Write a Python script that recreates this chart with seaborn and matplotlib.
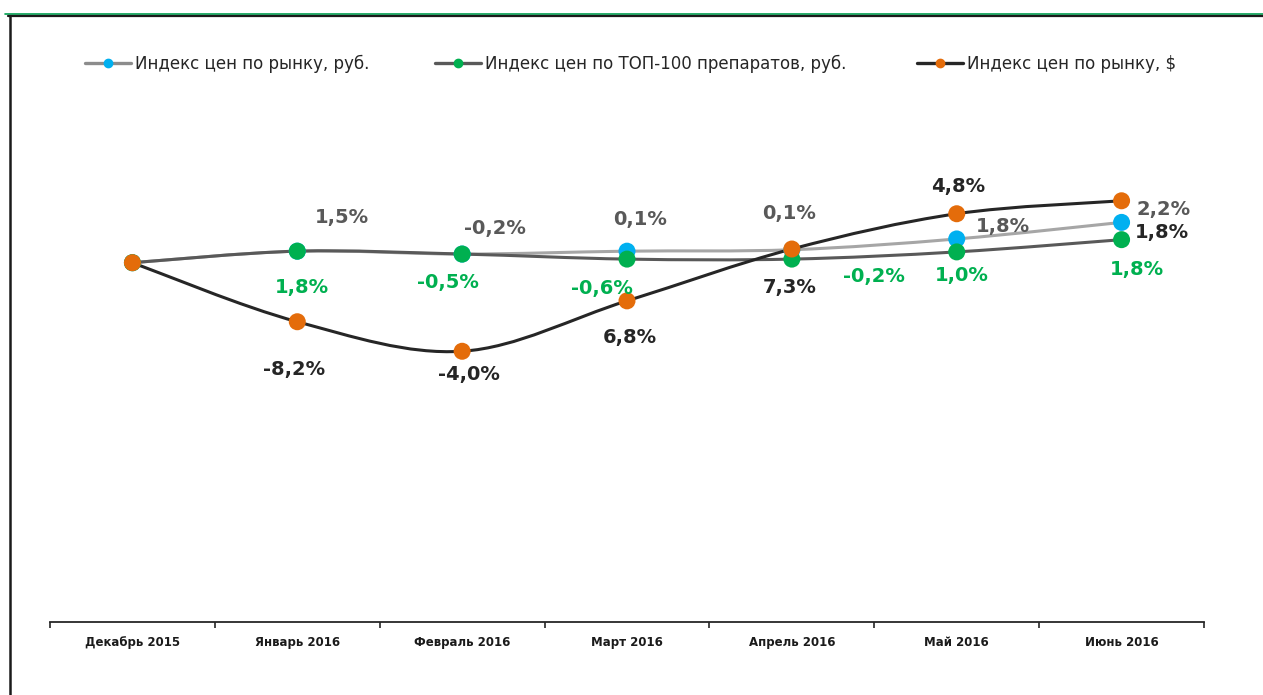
import numpy as np
import matplotlib
matplotlib.use("Agg")
import matplotlib.pyplot as plt
from matplotlib.path import Path
from matplotlib.patches import PathPatch
from matplotlib.lines import Line2D
import seaborn as sns

# ---------------- data ----------------
categories = ["Декабрь 2015", "Январь 2016", "Февраль 2016", "Март 2016",
              "Апрель 2016", "Май 2016", "Июнь 2016"]
series_names = ["Индекс цен по рынку, руб.",
                "Индекс цен по ТОП-100 препаратов, руб.",
                "Индекс цен по рынку, $"]
idx_rub = [100.0, 101.6, 101.2, 101.6, 101.8, 103.3, 105.6]
idx_top = [100.0, 101.6, 101.2, 100.5, 100.5, 101.5, 103.2]
idx_usd = [100.0, 91.8, 87.7, 94.7, 101.9, 106.8, 108.6]
lbl_rub = ["", "1,5%", "-0,2%", "0,1%", "0,1%", "1,8%", "2,2%"]
lbl_top = ["", "1,8%", "-0,5%", "-0,6%", "-0,2%", "1,0%", "1,8%"]
lbl_usd = ["", "-8,2%", "-4,0%", "6,8%", "7,3%", "4,8%", "1,8%"]

# ---------------- style ----------------
sns.set_style("white")
plt.rcParams['font.family'] = ['DejaVu Sans']

line_colors = ["#A6A6A6", "#595959", "#262626"]
legend_line_colors = ["#8C8C8C", "#595959", "#262626"]
marker_colors = ["#00B0F0", "#00B050", "#E46C0A"]
label_colors = ["#595959", "#00B050", "#262626"]

# label offsets in pixels (dx, dy up)
off_rub = [None, (45, 34), (33, 26), (13, 32), (-3, 36), (46, 12), (42, 13)]
off_top = [None, (5, -36), (-14, -28), (-25, -29), (82, -17), (5, -24), (15, -30)]
off_usd = [None, (-3, -48), (7, -23), (3, -37), (-2, -38), (1, 27), (40, -32)]

W, H = 1263, 695
fig = plt.figure(figsize=(W / 100, H / 100), dpi=100)
ax_left, ax_right, ax_bottom, ax_top = 50, 1204, 622, 100
ax = fig.add_axes([ax_left / W, 1 - ax_bottom / H,
                   (ax_right - ax_left) / W, (ax_bottom - ax_top) / H])

x = np.arange(len(categories))


def smooth_path(xs, ys):
    pts = np.column_stack([xs, ys]).astype(float)
    n = len(pts)
    verts = [pts[0]]
    codes = [Path.MOVETO]
    for i in range(n - 1):
        p0 = pts[i - 1] if i > 0 else pts[i]
        p1 = pts[i]
        p2 = pts[i + 1]
        p3 = pts[i + 2] if i + 2 < n else pts[i + 1]
        c1 = p1 + (p2 - p0) / 6.0
        c2 = p2 - (p3 - p1) / 6.0
        verts += [c1, c2, p2]
        codes += [Path.CURVE4] * 3
    return Path(verts, codes)


all_series = [idx_rub, idx_top, idx_usd]
all_labels = [lbl_rub, lbl_top, lbl_usd]
all_offs = [off_rub, off_top, off_usd]

for i, ys in enumerate(all_series):
    patch = PathPatch(smooth_path(x, ys), facecolor="none",
                      edgecolor=line_colors[i], lw=2.2, zorder=2 + i * 0.1,
                      capstyle="round", joinstyle="round")
    ax.add_patch(patch)

for i, ys in enumerate(all_series):
    sns.scatterplot(x=x, y=ys, ax=ax, color=marker_colors[i], s=150,
                    edgecolor="none", linewidth=0, zorder=5 + i, legend=False)

for i, (ys, lbls, offs) in enumerate(zip(all_series, all_labels, all_offs)):
    for j, t in enumerate(lbls):
        if not t:
            continue
        dx, dy = offs[j]
        ax.annotate(t, xy=(x[j], ys[j]), xytext=(dx * 0.72, dy * 0.72),
                    textcoords="offset points", ha="center", va="center",
                    fontsize=14, fontweight="bold", color=label_colors[i],
                    zorder=10)

ax.set_xlim(-0.5, len(categories) - 0.5)
px_per_unit = 7.2
base_px = 262.7
ax.set_ylim(100 - (ax_bottom - base_px) / px_per_unit,
            100 + (base_px - ax_top) / px_per_unit)

for s in ["top", "right", "left"]:
    ax.spines[s].set_visible(False)
ax.spines["bottom"].set_color("#262626")
ax.spines["bottom"].set_linewidth(1.3)
ax.set_yticks([])
ax.set_xticks(x)
ax.set_xticklabels(categories, fontsize=8.5, fontweight="bold", color="#1a1a1a")
ax.set_xticks(np.arange(-0.5, len(categories)), minor=True)
ax.tick_params(axis="x", which="major", length=0, pad=10)
ax.tick_params(axis="x", which="minor", length=4, width=1.2, color="#262626",
               direction="out", bottom=True)
ax.set_xlabel("")
ax.set_ylabel("")

# legend entries (three separate, positioned)
leg_x = [85, 435, 917]
for i in range(3):
    h = Line2D([], [], color=legend_line_colors[i], lw=2.4, marker="o",
               markersize=6, markerfacecolor=marker_colors[i],
               markeredgecolor=marker_colors[i])
    lg = fig.legend([h], [series_names[i]], loc="center left",
                    bbox_to_anchor=(leg_x[i] / W, 1 - 64 / H),
                    frameon=False, borderpad=0, borderaxespad=0,
                    handlelength=2.75, handletextpad=0.25, numpoints=1,
                    prop={"size": 12})
    for t in lg.get_texts():
        t.set_color("#262626")

# frame lines
fig.add_artist(Line2D([5 / W, 1], [1 - 14 / H, 1 - 14 / H], color="#00A050",
                      lw=1.2, transform=fig.transFigure))
fig.add_artist(Line2D([8 / W, 1], [1 - 16 / H, 1 - 16 / H], color="#1a1a1a",
                      lw=1.6, transform=fig.transFigure))
fig.add_artist(Line2D([9.5 / W, 9.5 / W], [0, 1 - 16 / H], color="#1a1a1a",
                      lw=1.8, transform=fig.transFigure))

fig.savefig("out.png", dpi=100)
